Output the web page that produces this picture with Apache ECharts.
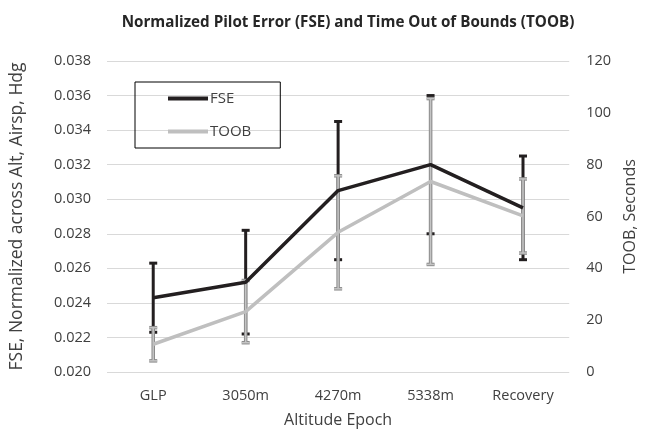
<!DOCTYPE html>
<html>
<head>
<meta charset="utf-8">
<script src="https://cdn.jsdelivr.net/npm/echarts@6/dist/echarts.min.js"></script>
<style>
  html, body { margin: 0; padding: 0; background: #fff; }
  #chart { width: 646px; height: 434px; }
</style>
</head>
<body>
<div id="chart"></div>
<script>
// chart data
var categories = ['GLP', '3050m', '4270m', '5338m', 'Recovery'];
var fseMean = [0.0243, 0.0252, 0.0305, 0.0320, 0.0295];
var fseErr = [0.0020, 0.0030, 0.0040, 0.0040, 0.0030];
var toobMean = [10.7, 23.3, 53.9, 73.5, 60.2];
var toobErr = [6.4, 12.0, 21.8, 32.0, 14.3];

var font = 'Open Sans';
var textColor = '#404040';

function errData(mean, err) {
  return mean.map(function (m, i) { return [i, m - err[i], m + err[i]]; });
}

// vertical bar with caps, drawn through the axis scales
function errRender(layers, capW) {
  return function (params, api) {
    var lo = api.coord([api.value(0), api.value(1)]);
    var hi = api.coord([api.value(0), api.value(2)]);
    var children = [];
    layers.forEach(function (l) {
      children.push({
        type: 'line',
        shape: { x1: lo[0], y1: lo[1], x2: hi[0], y2: hi[1] },
        style: { stroke: l.color, lineWidth: l.width }
      });
      [lo, hi].forEach(function (p) {
        children.push({
          type: 'line',
          shape: { x1: p[0] - capW / 2, y1: p[1], x2: p[0] + capW / 2, y2: p[1] },
          style: { stroke: l.color, lineWidth: l.width }
        });
      });
    });
    return { type: 'group', children: children };
  };
}

var chart = echarts.init(document.getElementById('chart'));
chart.setOption({
  animation: false,
  title: {
    text: 'Normalized Pilot Error (FSE) and Time Out of Bounds (TOOB)',
    left: 343,
    textAlign: 'center',
    top: 10,
    textStyle: { fontFamily: font, fontSize: 15.2, fontWeight: 'bold', color: '#262626' }
  },
  legend: {
    orient: 'vertical',
    left: 135,
    top: 82,
    data: [
      { name: 'FSE', icon: 'rect', itemStyle: { color: '#231f20' } },
      { name: 'TOOB', icon: 'rect', itemStyle: { color: '#bfbfbf' } }
    ],
    itemWidth: 40,
    itemHeight: 4,
    itemGap: 18,
    padding: [9, 29, 9, 33],
    borderColor: '#000',
    borderWidth: 1,
    textStyle: { fontFamily: font, fontSize: 15, color: textColor, padding: [0, 0, 0, -3] }
  },
  grid: { left: 107, right: 63, top: 61, bottom: 62 },
  xAxis: {
    type: 'category',
    data: categories,
    name: 'Altitude Epoch',
    nameLocation: 'middle',
    nameGap: 40,
    nameTextStyle: { fontFamily: font, fontSize: 16, color: textColor },
    axisLine: { show: false },
    axisTick: { show: false },
    axisLabel: { fontFamily: font, fontSize: 14.5, color: textColor, margin: 16 }
  },
  yAxis: [
    {
      type: 'value',
      min: 0.020,
      max: 0.038,
      interval: 0.002,
      name: 'FSE, Normalized across Alt, Airsp, Hdg',
      nameLocation: 'middle',
      nameGap: 81,
      nameTextStyle: { fontFamily: font, fontSize: 17.5, color: textColor },
      axisLine: { show: false },
      axisTick: { show: false },
      axisLabel: {
        fontFamily: font, fontSize: 14.5, color: textColor, margin: 16,
        formatter: function (v) { return v.toFixed(3); }
      },
      splitLine: { lineStyle: { color: '#d9d9d9', width: 1 } }
    },
    {
      type: 'value',
      min: 0,
      max: 120,
      interval: 20,
      name: 'TOOB, Seconds',
      nameLocation: 'middle',
      nameGap: 42,
      nameTextStyle: { fontFamily: font, fontSize: 16, color: textColor },
      axisLine: { show: false },
      axisTick: { show: false },
      axisLabel: { fontFamily: font, fontSize: 14.5, color: textColor, margin: 17 },
      splitLine: { show: false }
    }
  ],
  series: [
    {
      name: 'FSE err',
      type: 'custom',
      yAxisIndex: 0,
      data: errData(fseMean, fseErr),
      renderItem: errRender([{ color: '#231f20', width: 3 }], 8),
      z: 2
    },
    {
      name: 'TOOB err',
      type: 'custom',
      yAxisIndex: 1,
      data: errData(toobMean, toobErr),
      renderItem: errRender([{ color: '#8c8c8c', width: 3.5 }, { color: '#c4c4c4', width: 1.5 }], 8),
      z: 3
    },
    {
      name: 'TOOB',
      type: 'line',
      yAxisIndex: 1,
      data: toobMean,
      showSymbol: false,
      color: '#bfbfbf',
      lineStyle: { color: '#bfbfbf', width: 3.5 },
      z: 4
    },
    {
      name: 'FSE',
      type: 'line',
      yAxisIndex: 0,
      data: fseMean,
      showSymbol: false,
      color: '#231f20',
      lineStyle: { color: '#231f20', width: 3.5 },
      z: 5
    }
  ]
});
</script>
</body>
</html>
